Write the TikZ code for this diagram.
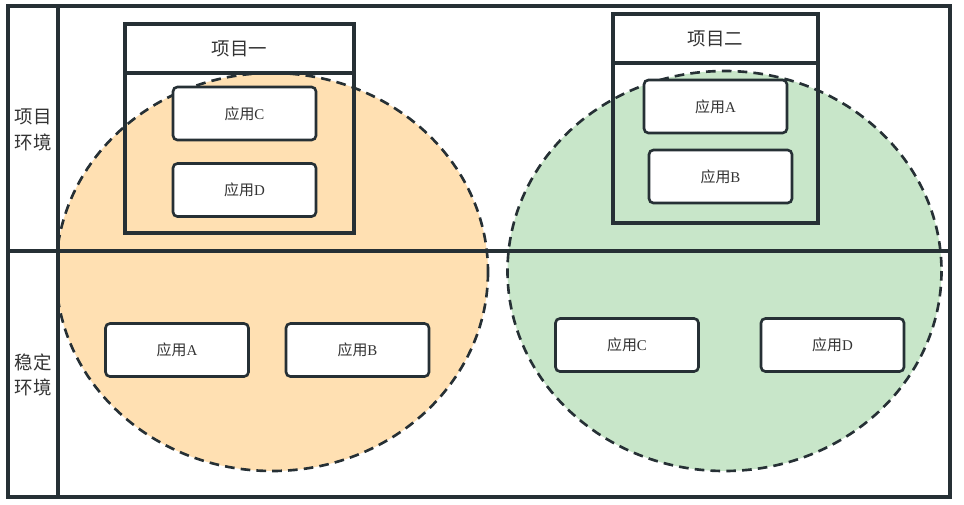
\documentclass[tikz,border=0pt]{standalone}
\usepackage{fontspec}
\setmainfont{Liberation Serif}
\newfontfamily\cjk{Noto Sans CJK SC}
\definecolor{lineGray}{HTML}{263035}
\definecolor{textGray}{HTML}{333333}
\definecolor{orangeFill}{HTML}{FFE0B2}
\definecolor{greenFill}{HTML}{C8E6C9}
\newcommand{\app}[1]{{\cjk 应用}#1}
\begin{document}
\begin{tikzpicture}[x=0.02cm, y=-0.02cm,
	frame/.style = {draw=lineGray, line width=1.8pt},
	appbox/.style = {draw=lineGray, line width=1.5pt, fill=white, rounded corners=2.5pt, inner sep=0pt, outer sep=0pt,
		minimum width=2.86cm, minimum height=1.06cm, text=textGray, font=\fontsize{8.5}{10}\selectfont},
	titlebox/.style = {draw=lineGray, line width=1.8pt, fill=white, inner sep=0pt, outer sep=0pt,
		minimum height=0.98cm, text=textGray, font=\fontsize{10.5}{12}\selectfont\cjk},
	bodybox/.style = {draw=lineGray, line width=1.8pt, inner sep=0pt, outer sep=0pt, minimum height=3.2cm},
	envlabel/.style = {text=textGray, align=center, font=\fontsize{10.5}{14.5}\selectfont\cjk},
	zone/.style = {draw=lineGray, line width=1.5pt, dash pattern=on 5.5pt off 3.5pt}]
	\useasboundingbox (0,0) rectangle (964,504);
	% zones
	\fill[orangeFill] (272,272) ellipse [x radius=216, y radius=199];
	\fill[greenFill] (724.5,271) ellipse [x radius=217, y radius=200];
	\draw[zone] (272,272) ellipse [x radius=216, y radius=199];
	\draw[zone] (724.5,271) ellipse [x radius=217, y radius=200];
	% frame
	\filldraw[frame, fill=white] (8,6) rectangle (58,497);
	\draw[frame] (8,6) rectangle (950,497);
	\draw[frame] (8,251) -- (950,251);
	\node (envProj) at (33,130) [envlabel] {项目\\环境};
	\node (envStable) at (33,375) [envlabel] {稳定\\环境};
	% project one
	\node (proj1) at (239.5,48.5) [titlebox, minimum width=4.58cm] {项目一};
	\node (proj1body) at (239.5,153) [bodybox, minimum width=4.58cm] {};
	\node (p1c) at (244.5,113.5) [appbox] {\app{C}};
	\node (p1d) at (244.5,190) [appbox] {\app{D}};
	% project two
	\node (proj2) at (715.5,38.5) [titlebox, minimum width=4.1cm] {项目二};
	\node (proj2body) at (715.5,143) [bodybox, minimum width=4.1cm] {};
	\node (p2a) at (715.5,106.5) [appbox] {\app{A}};
	\node (p2b) at (720.5,176.5) [appbox] {\app{B}};
	% stable
	\node (sa) at (177,350) [appbox] {\app{A}};
	\node (sb) at (357.5,350) [appbox] {\app{B}};
	\node (sc) at (627,345) [appbox] {\app{C}};
	\node (sd) at (832.5,345) [appbox] {\app{D}};
\end{tikzpicture}
\end{document}
